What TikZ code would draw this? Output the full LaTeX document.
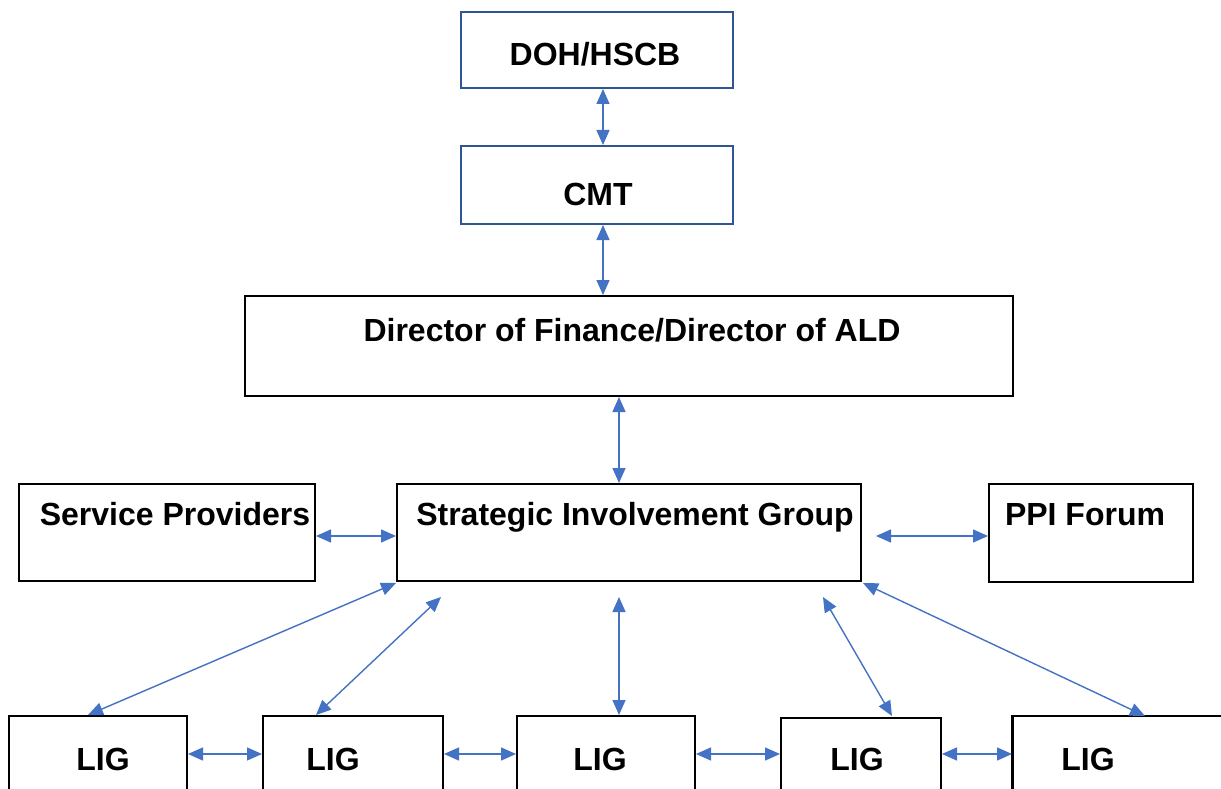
\documentclass[tikz,border=0pt]{standalone}
\usepackage{fontspec}
\setmainfont{Liberation Sans}
\usetikzlibrary{arrows.meta}
\definecolor{arrowblue}{HTML}{4472C4}
\definecolor{boxblue}{HTML}{2F5597}
\tikzset{
  box/.style={draw=black, line width=2.8pt, rectangle, inner sep=0pt},
  bluebox/.style={box, draw=boxblue},
  lbl/.style={font=\fontsize{32}{37}\selectfont\bfseries, anchor=base, inner sep=0pt},
  conn/.style={draw=arrowblue, line width=1.4pt, {Triangle[length=15pt,width=13pt]}-{Triangle[length=15pt,width=13pt]}}
}
\begin{document}
\begin{tikzpicture}[x=1pt,y=-1pt]
\useasboundingbox (0,0) rectangle (1221,789);
\clip (0,0) rectangle (1221,789);
\fill[white] (0,0) rectangle (1221,789);
% boxes
\node[bluebox, minimum width=272pt, minimum height=76pt] (doh) at (597,50) {};
\node[bluebox, minimum width=272pt, minimum height=78pt] (cmt) at (597,185) {};
\node[box, minimum width=768pt, minimum height=100pt] (dir) at (629,346) {};
\node[box, minimum width=464pt, minimum height=97pt] (sig) at (629,532.5) {};
\node[box, minimum width=296pt, minimum height=97pt] (sp) at (167,532.5) {};
\node[box, minimum width=204pt, minimum height=98pt] (ppi) at (1091,533) {};
\node[box, minimum width=178pt, minimum height=104pt] (l1) at (98,768) {};
\node[box, minimum width=180pt, minimum height=104pt] (l2) at (353,768) {};
\node[box, minimum width=178pt, minimum height=104pt] (l3) at (606,768) {};
\node[box, minimum width=160pt, minimum height=104pt] (l4) at (861,770) {};
\node[box, minimum width=227pt, minimum height=104pt] (l5) at (1126,768) {};
% texts
\node[lbl] (tdoh) at (595,66) {DOH/HSCB};
\node[lbl] (tcmt) at (598,205) {CMT};
\node[lbl] (tdir) at (632,341) {Director of Finance/Director of ALD};
\node[lbl] (tsig) at (635,525) {Strategic Involvement Group};
\node[lbl] (tsp) at (175,525) {Service Providers};
\node[lbl] (tppi) at (1085,525) {PPI Forum};
\node[lbl] (tl1) at (103,770) {LIG};
\node[lbl] (tl2) at (333,770) {LIG};
\node[lbl] (tl3) at (600,770) {LIG};
\node[lbl] (tl4) at (857,770) {LIG};
\node[lbl] (tl5) at (1088,770) {LIG};
% connector end points
\coordinate (a1) at (603,89);
\coordinate (a2) at (603,145);
\coordinate (b1) at (603,225);
\coordinate (b2) at (603,295);
\coordinate (c1) at (619,397);
\coordinate (c2) at (619,483);
\coordinate (d1) at (316,536);
\coordinate (d2) at (396,536);
\coordinate (e1) at (876,536);
\coordinate (e2) at (988,536);
\coordinate (f1) at (396,583);
\coordinate (f2) at (88,715);
\coordinate (g1) at (441,597);
\coordinate (g2) at (316,715);
\coordinate (h1) at (619,597);
\coordinate (h2) at (619,715);
\coordinate (i1) at (823,597);
\coordinate (i2) at (892,716);
\coordinate (j1) at (863,583);
\coordinate (j2) at (1145,716);
\coordinate (k1) at (188,754);
\coordinate (k2) at (262,754);
\coordinate (m1) at (444,754);
\coordinate (m2) at (516,754);
\coordinate (n1) at (696,754);
\coordinate (n2) at (780,754);
\coordinate (o1) at (942,754);
\coordinate (o2) at (1012,754);
% connectors
\draw[conn] (a1) -- (a2);
\draw[conn] (b1) -- (b2);
\draw[conn] (c1) -- (c2);
\draw[conn] (d1) -- (d2);
\draw[conn] (e1) -- (e2);
\draw[conn] (f1) -- (f2);
\draw[conn] (g1) -- (g2);
\draw[conn] (h1) -- (h2);
\draw[conn] (i1) -- (i2);
\draw[conn] (j1) -- (j2);
\draw[conn] (k1) -- (k2);
\draw[conn] (m1) -- (m2);
\draw[conn] (n1) -- (n2);
\draw[conn] (o1) -- (o2);
\end{tikzpicture}
\end{document}
